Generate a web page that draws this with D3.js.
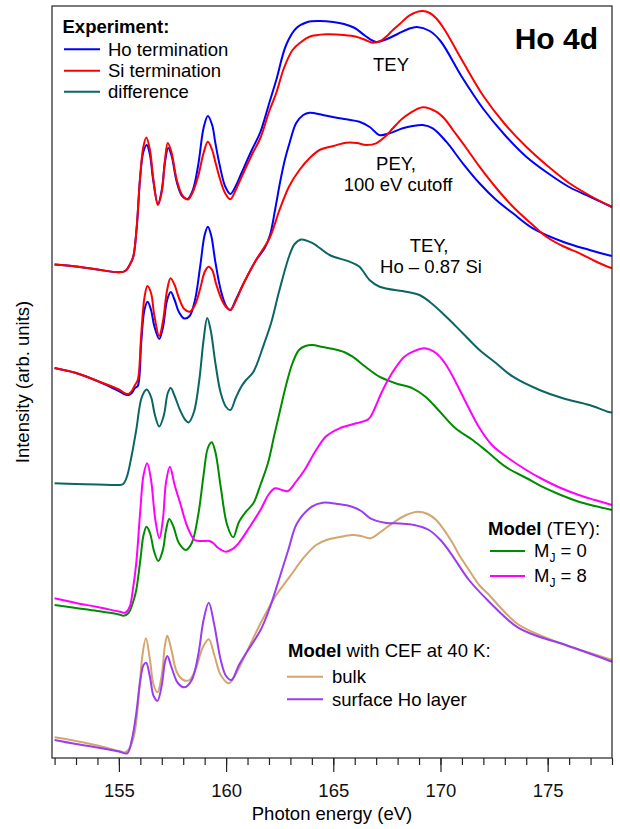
<!DOCTYPE html>
<html lang="en">
<head>
<meta charset="UTF-8" />
<title>Ho 4d XAS</title>
<script src="https://d3js.org/d3.v7.min.js"></script>
<style>
  body { margin: 0; background: #fff; }
  svg { display: block; font-family: "Liberation Sans", Arial, Helvetica, sans-serif; }
</style>
</head>
<body>
<svg id="chart" width="620" height="829"></svg>
<script>
// photon energy axis
const energyTicks = [155, 160, 165, 170, 175];
const minorTicks = d3.range(152, 179, 1);

// spectra: [photon energy (eV), intensity (arb. units, vertically offset as plotted)]
const teyHo = [[152,535.5],[153,533.5],[154,530.5],[155,527.7],[155.3,529],[155.5,535],[155.67,543.3],[155.83,572],[155.99,622],[156.14,648],[156.3,655],[156.45,645],[156.6,620],[156.82,596],[157,610],[157.15,638],[157.3,652],[157.45,645],[157.7,618],[157.95,604],[158.2,601],[158.45,610],[158.7,635],[158.95,672],[159.15,684],[159.35,675],[159.5,657],[159.7,635],[159.95,614],[160.2,606],[160.45,614],[160.7,626],[161.2,650],[161.6,668],[162,696],[162.34,720],[162.8,755],[163.27,771.7],[163.8,778],[164.36,779],[165,778],[165.5,776],[166,772],[166.5,764],[167,758],[167.5,761],[168,766],[168.5,771],[168.9,773],[169.5,769],[170,759],[171,723],[172,691],[173,665],[174,643.3],[175,627],[176,613],[177,603],[178,593]];
const teySi = [[152,535.5],[153,533.5],[154,530.5],[155,527.7],[155.3,529],[155.5,535],[155.67,543.3],[155.83,573],[155.99,623],[156.14,653],[156.28,662.5],[156.45,650],[156.6,622],[156.82,595],[157,608],[157.15,640],[157.28,657],[157.45,648],[157.7,620],[157.95,605],[158.22,600.5],[158.45,608],[158.7,624],[158.95,647],[159.15,658.3],[159.35,650],[159.5,638],[159.7,622],[159.95,607],[160.2,600.7],[160.45,610],[160.7,622],[161.2,645],[161.6,662],[162,688],[162.34,707],[162.7,732],[163.1,750],[163.5,758],[163.89,763.3],[164.67,765.7],[165.5,765],[166.07,763.3],[166.5,760],[166.83,757.3],[167.2,759],[167.5,764],[167.78,770],[168.1,776],[168.56,784.7],[169.16,789],[169.5,787],[169.8,781.7],[170.2,770],[171,740],[172,704],[173,676],[174,653.3],[175,634],[176,617],[177,604],[178,593]];
const peyHo = [[152,432],[153,427],[154,419],[155,409],[155.3,405.5],[155.45,405],[155.6,407],[155.75,412],[155.88,414],[156.04,457],[156.19,490],[156.34,498.3],[156.5,490],[156.65,474],[156.88,461],[157.05,472],[157.25,500],[157.42,508],[157.6,500],[157.8,488],[158.05,481.5],[158.3,484],[158.55,500],[158.8,535],[159,565],[159.15,573.3],[159.3,565],[159.5,538],[159.75,510],[160,494],[160.2,490],[160.45,500],[160.78,515],[161.4,540],[161.8,552],[162.05,565],[162.3,592],[162.52,618],[162.75,641],[162.96,657],[163.27,677],[163.6,685],[163.89,687.3],[164.51,685],[165.1,682.5],[165.6,680.7],[166.22,678.3],[166.7,673],[167.15,665],[167.62,666.7],[168.24,671.7],[168.7,674],[169.17,675],[169.64,671.7],[170.27,658.3],[171.04,636.7],[171.82,616.7],[172.6,600],[173.38,586.7],[174.31,571.7],[175.71,558.3],[176.95,550],[177.8,545],[178,544]];
const peySi = [[152,432],[153,427],[154,419],[155,410.5],[155.3,406.5],[155.45,406],[155.6,409],[155.75,415],[155.88,420],[156.04,465],[156.19,502],[156.33,514],[156.5,507],[156.65,485],[156.88,464],[157.05,478],[157.25,510],[157.41,521.7],[157.6,515],[157.8,502],[158.05,491],[158.3,488.3],[158.55,495],[158.8,512],[159,528],[159.18,533.3],[159.35,530],[159.55,515],[159.8,500],[160,493],[160.2,490],[160.45,499],[160.78,515],[161.4,540],[162.03,562],[162.49,590],[162.95,614],[163.42,630],[163.9,642],[164.36,650],[165,654],[165.6,657.3],[166.1,657],[166.53,655],[167,656.7],[167.4,663],[167.78,671.7],[168.2,681],[168.56,686.7],[169.18,692.7],[169.8,688.3],[170.2,681],[170.58,670],[171.2,652],[171.82,633.3],[172.6,612],[173.38,593.3],[174.2,577],[174.94,563.3],[175.7,554],[176.49,546.7],[177.2,539],[177.8,533.3],[178,532]];
const teyDiff = [[152,316.7],[153,316],[154,315.5],[155,315],[155.2,316],[155.37,323],[155.6,345],[155.81,370],[156.07,403],[156.3,410.5],[156.5,403],[156.68,385],[156.88,373.5],[157.1,385],[157.28,407],[157.42,412],[157.6,404],[157.85,390],[158.1,380],[158.25,377.5],[158.5,388],[158.75,420],[158.95,460],[159.12,482],[159.28,470],[159.5,437],[159.75,407],[160,393],[160.2,390],[160.45,402],[160.7,413],[160.93,420],[161.27,428],[161.78,456.7],[162.1,477],[162.49,510],[162.96,545],[163.2,556],[163.5,560.5],[164.05,556.7],[164.83,545],[165.76,538.3],[166.22,533.3],[166.69,520],[167.16,513.3],[168.4,508.3],[169.02,505],[169.49,498.3],[170.27,483.3],[171.04,466.7],[171.82,450],[172.6,436.7],[173.38,423.3],[174.62,410],[175.71,401.7],[176.95,395],[177.8,388.3],[178,387.5]];
const modelMJ0 = [[152,195],[153,192],[154,189],[155,185.5],[155.22,184.3],[155.45,187],[155.65,197],[155.81,210],[156,240],[156.15,265],[156.29,273.3],[156.45,267],[156.65,248],[156.84,239],[157.05,250],[157.2,270],[157.35,281],[157.55,273],[157.8,257],[158.12,250],[158.4,257],[158.7,285],[158.95,325],[159.15,352],[159.33,357.7],[159.5,348],[159.75,313],[160.05,275],[160.33,262.7],[160.6,278],[160.93,288.3],[161.27,296.7],[161.6,315],[161.95,336.7],[162.25,365],[162.49,387],[162.8,415],[163.1,437],[163.4,450],[163.7,454],[164.03,455],[164.5,453],[165,451],[165.5,448],[165.9,443.3],[166.5,433.3],[167.15,423.3],[167.9,416.7],[168.7,411.7],[169.3,403.3],[169.9,390],[170.7,371.7],[171.5,360],[172.2,348],[173.03,333.3],[174,322],[174.74,313.3],[175.5,306],[176.45,298.3],[177.2,294],[178,290]];
const modelMJ8 = [[152,201.7],[153,197],[154,193],[155,188.5],[155.3,187.3],[155.5,193],[155.65,210],[155.81,237],[156,290],[156.15,325],[156.32,336.7],[156.5,320],[156.7,280],[156.89,261.7],[157.05,280],[157.2,318],[157.38,333.3],[157.6,315],[157.86,296.7],[158.2,273],[158.54,260],[158.9,259],[159.22,259],[159.4,257],[159.56,253.3],[159.99,248.3],[160.3,251],[160.58,256.7],[161.1,273],[161.6,290],[162,306],[162.29,311.7],[162.6,310],[162.89,309],[163.25,318],[163.66,330],[164.2,350],[164.68,364],[165.29,371.7],[166.07,376.7],[166.65,381],[166.9,390],[167.2,405],[167.55,420],[167.94,433.3],[168.3,443],[168.71,448.3],[169.26,451.7],[169.8,446.7],[170.2,437],[170.58,423.3],[171.2,397],[171.82,372],[172.4,355],[173.03,344],[174,330],[174.74,321],[175.5,313],[176.45,305],[177.2,300],[178,295]];
const cefBulk = [[152,62.7],[153,59],[154,54.5],[155,49],[155.3,47.7],[155.5,52],[155.73,66.7],[155.95,110],[156.1,145],[156.26,161.7],[156.45,140],[156.62,115],[156.8,107.7],[157,125],[157.15,155],[157.26,164.3],[157.45,150],[157.7,128],[158,120],[158.29,120],[158.6,132],[158.9,152],[159.19,160.7],[159.45,145],[159.75,125],[160.13,116.7],[160.5,128],[160.93,146.7],[161.61,176.7],[162.29,203.3],[162.97,223.3],[163.66,243.3],[164.2,255],[164.68,260],[165.3,263],[165.87,265],[166.3,264],[166.73,261.7],[167.2,268],[167.75,276.7],[168.4,285],[168.94,288.3],[169.4,286],[169.8,280],[170.48,260],[170.9,244],[171.33,230],[171.8,215],[172.19,206.7],[173.55,176.7],[174.5,166],[175.6,156.7],[178,140]];
const cefSurface = [[152,60],[153,56],[154,52.5],[155,48.5],[155.39,46.7],[155.6,60],[155.81,86.7],[156,120],[156.15,135],[156.27,137.3],[156.45,123],[156.62,104],[156.8,99.3],[157,115],[157.15,138],[157.26,144],[157.45,133],[157.75,117],[158.06,112.7],[158.4,120],[158.7,145],[158.95,180],[159.19,197.3],[159.45,175],[159.75,140],[160,124],[160.25,120],[160.6,135],[160.93,146.7],[161.61,170],[162,190],[162.46,220],[162.9,250],[163.31,276.7],[164,293.3],[164.51,297.3],[165.2,296],[165.87,293.3],[166.3,289],[166.73,281.7],[167.41,277.3],[168.1,276.5],[168.77,275],[169.46,270],[170,260],[170.48,246.7],[171.33,220],[172.19,200],[173.55,173.3],[174.5,164],[175.6,156.7],[178,138.3]];

const svg = d3.select("#chart");
const x = d3.scaleLinear().domain([151.88, 178]).range([52, 612]);
const y = d3.scaleLinear().domain([42, 794]).range([758, 6]);
const fs = 18.5;

const line = d3.line().x(d => x(d[0])).y(d => y(d[1])).curve(d3.curveCatmullRom.alpha(0.5));

const curves = [
  { data: teyHo, color: "#0000ff" },
  { data: teySi, color: "#ff0000" },
  { data: peyHo, color: "#0000ff" },
  { data: peySi, color: "#ff0000" },
  { data: teyDiff, color: "#0b6565" },
  { data: modelMJ0, color: "#008c00" },
  { data: modelMJ8, color: "#ff00ff" },
  { data: cefBulk, color: "#d4a56c" },
  { data: cefSurface, color: "#9a3cf0" }
];

svg.append("g").selectAll("path")
  .data(curves)
  .join("path")
  .attr("d", d => line(d.data))
  .attr("fill", "none")
  .attr("stroke", d => d.color)
  .attr("stroke-width", 2)
  .attr("stroke-linejoin", "round");

// frame
svg.append("rect")
  .attr("x", 52).attr("y", 6)
  .attr("width", 560).attr("height", 752)
  .attr("fill", "none")
  .attr("stroke", "#222")
  .attr("stroke-width", 1.2);

// x axis: minor + major ticks
const minorAxis = svg.append("g")
  .attr("transform", "translate(0,758)")
  .call(d3.axisBottom(x).tickValues(minorTicks).tickSize(7).tickFormat(""));
minorAxis.select(".domain").remove();

const majorAxis = svg.append("g")
  .attr("transform", "translate(0,758)")
  .call(d3.axisBottom(x).tickValues(energyTicks).tickSize(14).tickPadding(12).tickFormat(d3.format("d")));
majorAxis.select(".domain").remove();
majorAxis.selectAll("text").attr("font-size", fs).attr("font-family", "Liberation Sans, Arial, sans-serif").attr("fill", "#111");
svg.selectAll(".tick line").attr("stroke", "#222").attr("stroke-width", 1.2);

svg.append("text")
  .attr("x", 332).attr("y", 820)
  .attr("text-anchor", "middle")
  .attr("font-size", fs)
  .text("Photon energy (eV)");

svg.append("text")
  .attr("transform", "translate(28.5,382) rotate(-90)")
  .attr("text-anchor", "middle")
  .attr("font-size", fs)
  .text("Intensity (arb. units)");

// title
svg.append("text")
  .attr("x", 598).attr("y", 49)
  .attr("text-anchor", "end")
  .attr("font-size", 30)
  .attr("font-weight", "bold")
  .text("Ho 4d");

// curve annotations
function centered(txt, cx, cy) {
  svg.append("text").attr("x", cx).attr("y", cy)
    .attr("text-anchor", "middle").attr("font-size", fs).text(txt);
}
centered("TEY", 391, 71);
centered("PEY,", 396, 170);
centered("100 eV cutoff", 398, 191);
centered("TEY,", 429, 252);
centered("Ho \u2013 0.87 Si", 431, 273);

// legends
function legendRow(x0, x1, ly, color, tx, ty) {
  svg.append("line").attr("x1", x0).attr("x2", x1).attr("y1", ly).attr("y2", ly)
    .attr("stroke", color).attr("stroke-width", 2);
  return svg.append("text").attr("x", tx).attr("y", ty).attr("font-size", fs);
}

svg.append("text").attr("x", 62.5).attr("y", 33).attr("font-size", fs)
  .attr("font-weight", "bold").text("Experiment:");
legendRow(64, 100, 49.3, "#0000ff", 108, 55.5).text("Ho termination");
legendRow(64, 100, 70.7, "#ff0000", 108, 76.5).text("Si termination");
legendRow(64, 100, 91.7, "#0b6565", 108, 97.5).text("difference");

const m1 = svg.append("text").attr("x", 488).attr("y", 535).attr("font-size", fs);
m1.append("tspan").attr("font-weight", "bold").text("Model");
m1.append("tspan").text(" (TEY):");
[["0", 551, 557, "#008c00"], ["8", 576, 582, "#ff00ff"]].forEach(([v, ly, ty, c]) => {
  const t = legendRow(490, 525, ly, c, 534, ty);
  t.append("tspan").text("M");
  t.append("tspan").attr("font-size", 12).attr("dy", 5).text("J");
  t.append("tspan").attr("dy", -5).text(" = " + v);
});

const m2 = svg.append("text").attr("x", 288).attr("y", 657).attr("font-size", fs);
m2.append("tspan").attr("font-weight", "bold").text("Model");
m2.append("tspan").text(" with CEF at 40 K:");
legendRow(287, 323, 676.7, "#d4a56c", 332, 683).text("bulk");
legendRow(287, 323, 699.3, "#9a3cf0", 332, 706).text("surface Ho layer");
</script>
</body>
</html>
